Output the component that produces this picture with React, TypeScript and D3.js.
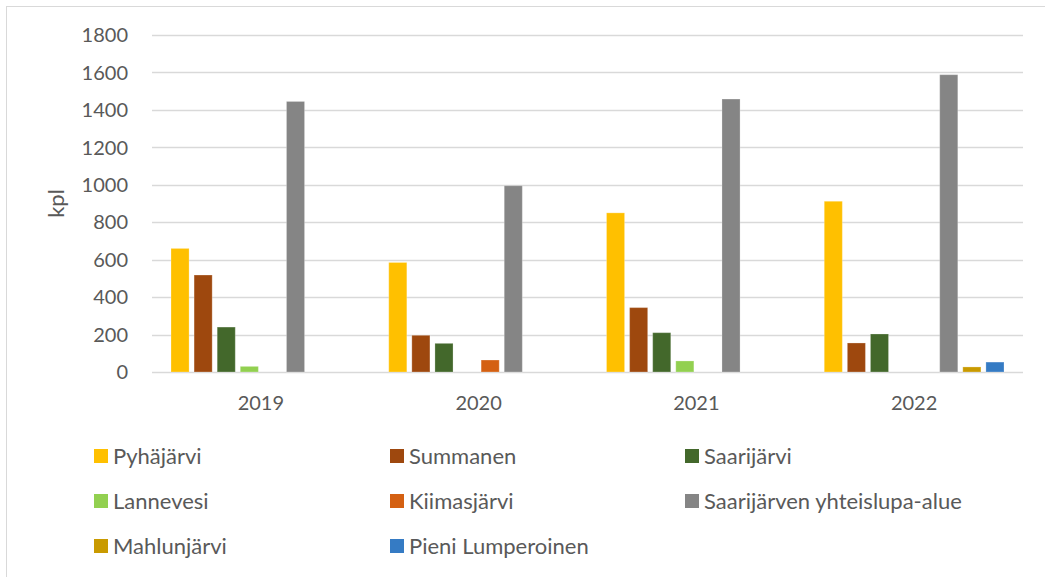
import React from 'react';
import * as d3 from 'd3';

// Vuodet ja sarjat (kpl)
const years = ['2019', '2020', '2021', '2022'];
const seriesNames = [
  'Pyhäjärvi',
  'Summanen',
  'Saarijärvi',
  'Lannevesi',
  'Kiimasjärvi',
  'Saarijärven yhteislupa-alue',
  'Mahlunjärvi',
  'Pieni Lumperoinen',
];
const pyhajarvi = [660, 585, 850, 912];
const summanen = [518, 196, 344, 155];
const saarijarvi = [240, 153, 210, 203];
const lannevesi = [30, 0, 59, 0];
const kiimasjarvi = [0, 64, 0, 0];
const yhteislupa = [1445, 995, 1458, 1588];
const mahlunjarvi = [0, 0, 0, 27];
const pieniLumperoinen = [0, 0, 0, 53];
const yTicks = [0, 200, 400, 600, 800, 1000, 1200, 1400, 1600, 1800];

const colors = ['#FFC000', '#9E480E', '#43682B', '#92D050', '#D46012', '#858585', '#C99A00', '#357BC4'];
const allSeries = [pyhajarvi, summanen, saarijarvi, lannevesi, kiimasjarvi, yhteislupa, mahlunjarvi, pieniLumperoinen];

const W = 1045;
const H = 577;
const plot = { left: 152, right: 1023, top: 35, bottom: 372 };
const font = "Lato, 'Open Sans', sans-serif";
const textColor = '#595959';

export default function App() {
  const x0 = d3.scaleBand<string>().domain(years).range([plot.left, plot.right]).padding(0);
  const bw = x0.bandwidth();
  const x1 = d3
    .scaleBand<string>()
    .domain(seriesNames)
    .range([19, bw - 19])
    .paddingInner(0.217)
    .paddingOuter(0);
  const y = d3.scaleLinear().domain([0, 1800]).range([plot.bottom, plot.top]);

  // legend layout: 3 columns
  const legendCols = [94, 390, 685];
  const legendRows = [456, 501, 546];

  return (
    <div style={{ position: 'absolute', left: 0, top: 0 }}>
      <svg width={W} height={H} style={{ display: 'block', background: '#fff' }}>
        {/* chart border (top & left visible) */}
        <line x1={6} x2={W} y1={6.5} y2={6.5} stroke="#d9d9d9" />
        <line x1={6.5} x2={6.5} y1={6} y2={H} stroke="#d9d9d9" />

        {/* grid */}
        {yTicks.map(t => (
          <line
            key={t}
            x1={plot.left}
            x2={plot.right}
            y1={Math.round(y(t)) + 0.5}
            y2={Math.round(y(t)) + 0.5}
            stroke="#d9d9d9"
            strokeWidth={1.3}
          />
        ))}

        {/* y tick labels */}
        {yTicks.map(t => (
          <text
            key={'l' + t}
            x={128}
            y={y(t)}
            dy="0.36em"
            textAnchor="end"
            fontFamily={font}
            fontSize={20}
            fill={textColor}
          >
            {t}
          </text>
        ))}

        <text
          transform={`translate(64, ${(plot.top + plot.bottom) / 2}) rotate(-90)`}
          textAnchor="middle"
          fontFamily={font}
          fontSize={22}
          fill={textColor}
        >
          kpl
        </text>

        {/* bars */}
        {years.map((yr, i) => (
          <g key={yr} transform={`translate(${x0(yr)},0)`}>
            {seriesNames.map((s, j) => {
              const v = allSeries[j][i];
              if (!v) return null;
              return (
                <rect
                  key={s}
                  x={x1(s)}
                  width={x1.bandwidth()}
                  y={y(v)}
                  height={y(0) - y(v)}
                  fill={colors[j]}
                  stroke="#ffffff"
                  strokeOpacity={0.25}
                  strokeWidth={1}
                />
              );
            })}
          </g>
        ))}

        {/* x labels */}
        {years.map(yr => (
          <text
            key={'x' + yr}
            x={(x0(yr) as number) + bw / 2}
            y={410}
            textAnchor="middle"
            fontFamily={font}
            fontSize={20}
            fill={textColor}
          >
            {yr}
          </text>
        ))}

        {/* legend */}
        {seriesNames.map((s, j) => {
          const lx = legendCols[j % 3];
          const ly = legendRows[Math.floor(j / 3)];
          return (
            <g key={'lg' + s} transform={`translate(${lx},${ly})`}>
              <rect x={0} y={-7} width={14} height={14} fill={colors[j]} />
              <text x={19} y={0} dy="0.36em" fontFamily={font} fontSize={22} fill={textColor}>
                {s}
              </text>
            </g>
          );
        })}
      </svg>
    </div>
  );
}
